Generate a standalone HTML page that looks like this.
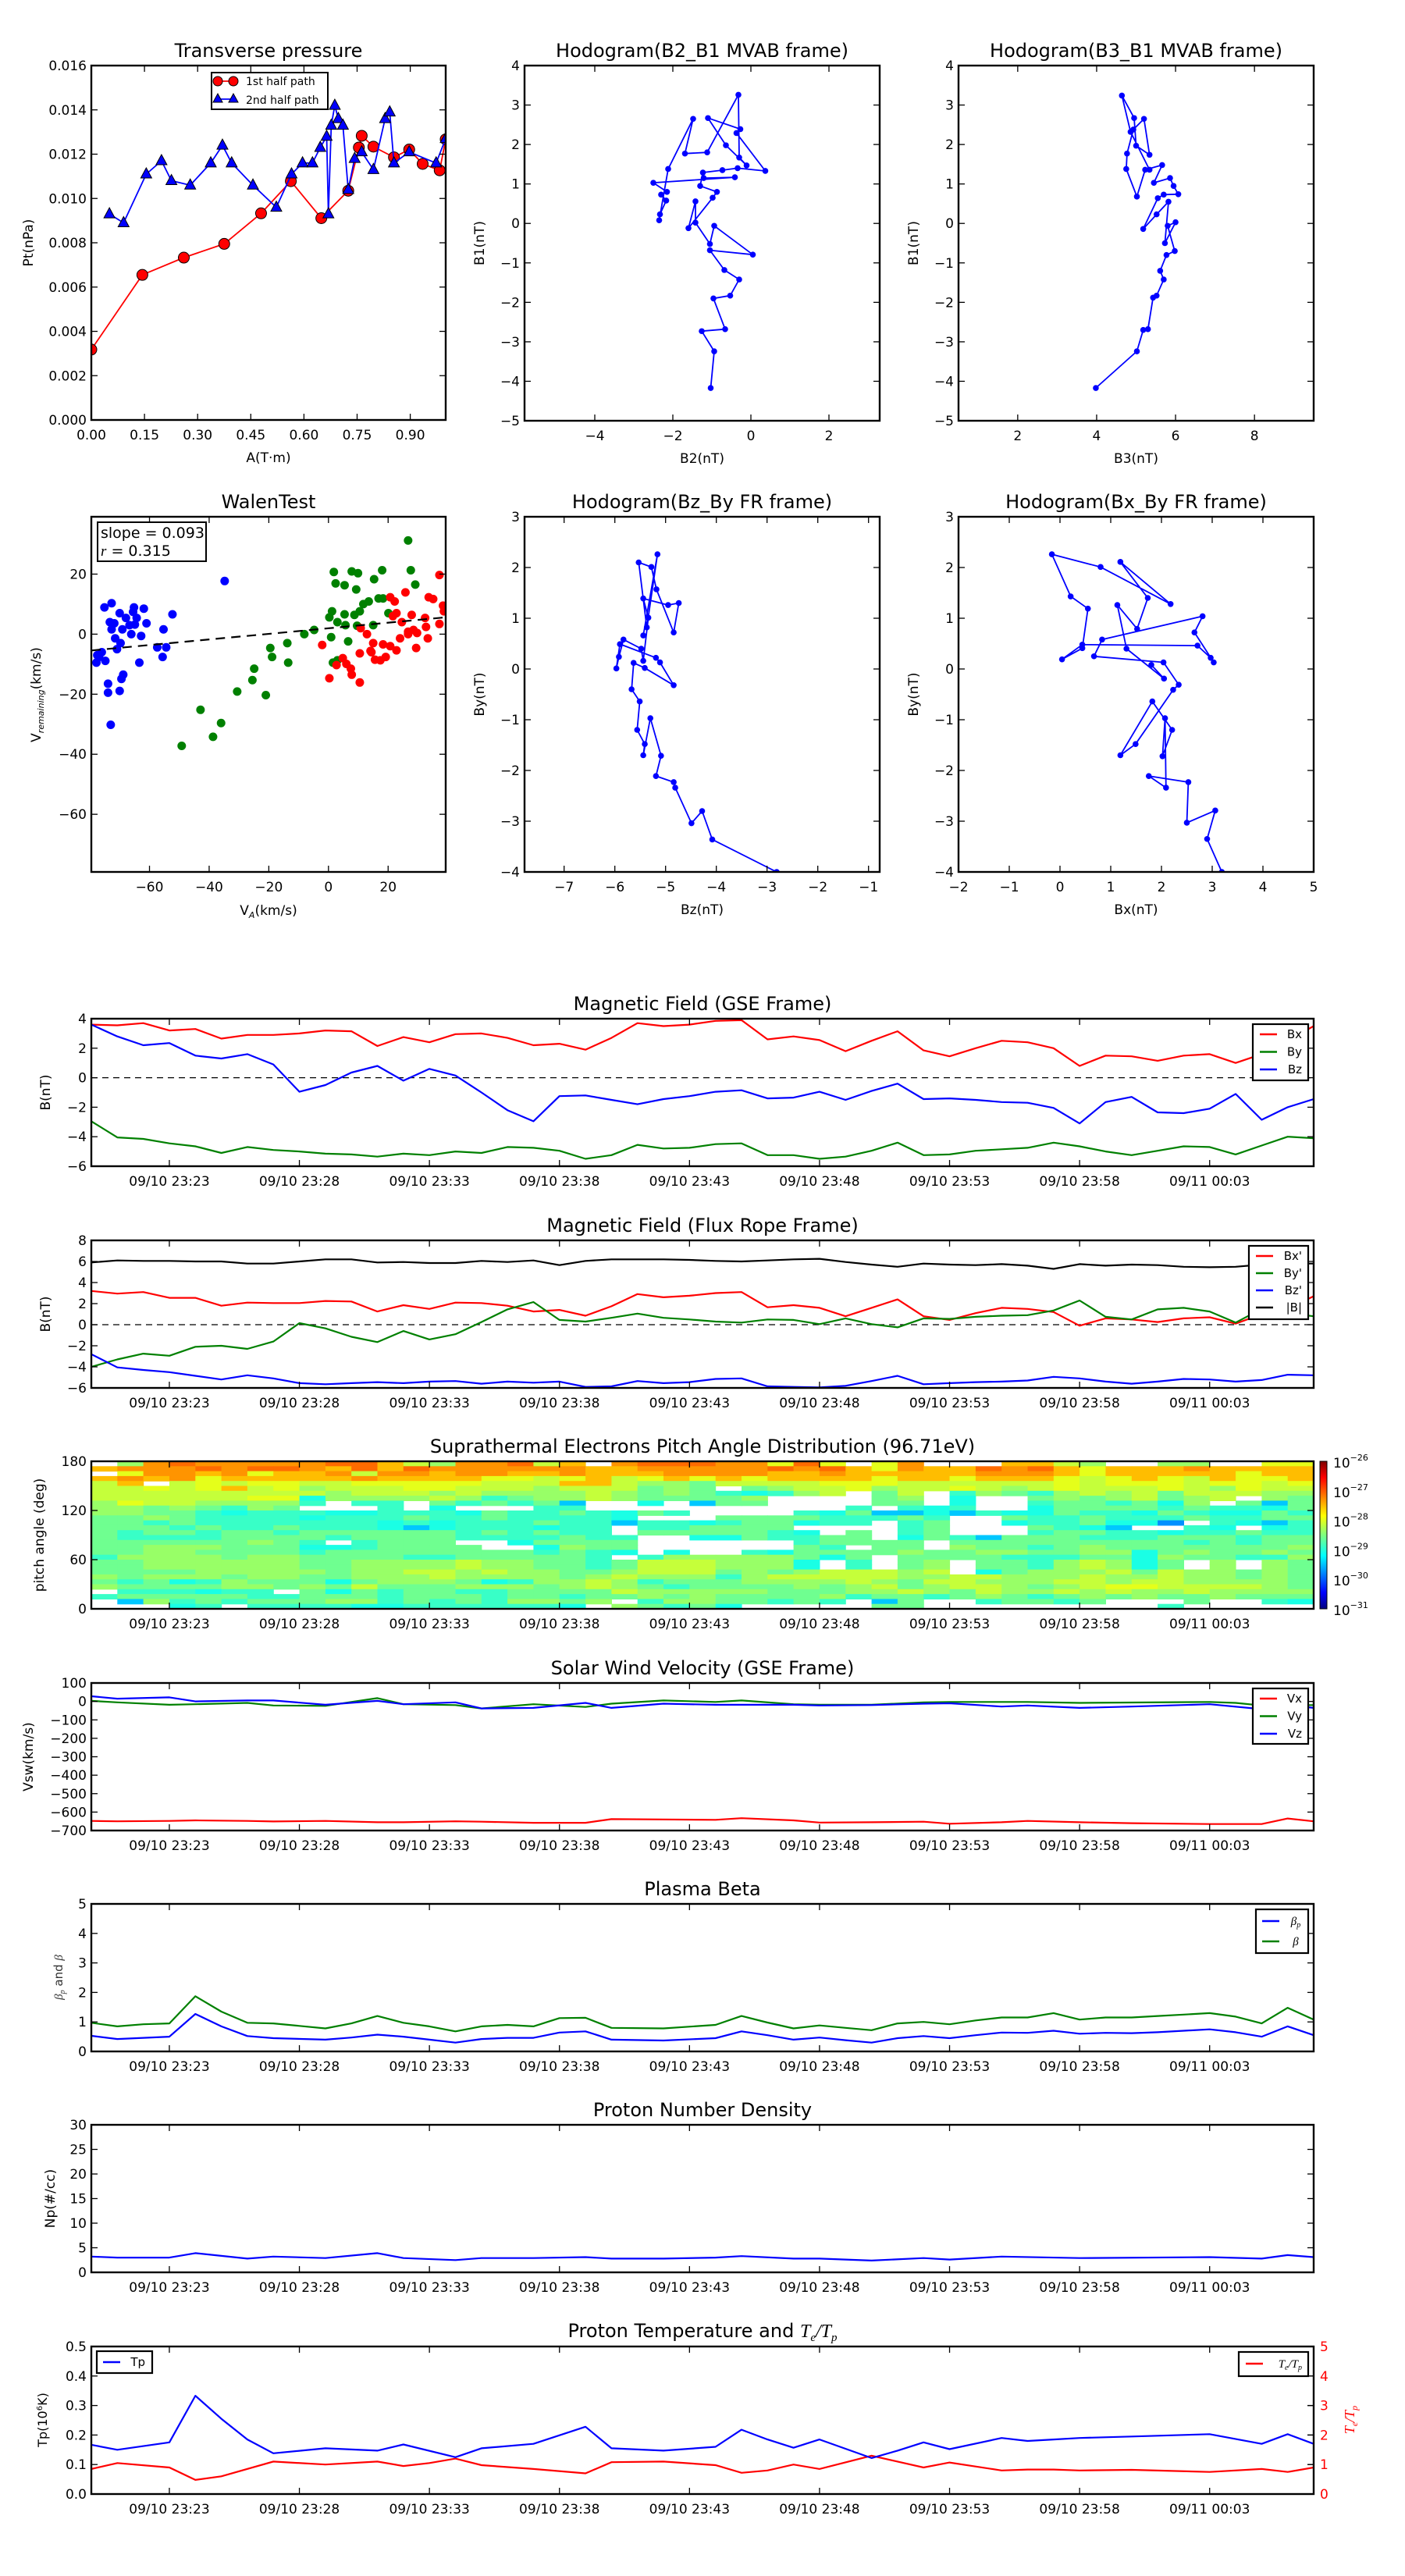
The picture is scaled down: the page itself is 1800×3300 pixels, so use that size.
<!DOCTYPE html>
<html><head><meta charset="utf-8">
<style>
html,body{margin:0;padding:0;background:#fff;}
svg{display:block;font-family:"DejaVu Sans","Liberation Sans",sans-serif;}
</style></head>
<body>
<svg id="fig" xmlns="http://www.w3.org/2000/svg" width="1800" height="3300" viewBox="0 0 1800 3300">
<rect x="0" y="0" width="1800" height="3300" fill="#fff"/>
<defs>
<linearGradient id="jet" x1="0" y1="1" x2="0" y2="0">
<stop offset="0" stop-color="#00007f"/><stop offset="0.11" stop-color="#0000ff"/><stop offset="0.36" stop-color="#00ffff"/><stop offset="0.5" stop-color="#7fff7f"/><stop offset="0.63" stop-color="#ffff00"/><stop offset="0.89" stop-color="#ff0000"/><stop offset="1" stop-color="#7f0000"/>
</linearGradient>
</defs>
</svg>
<script>
// ---------- DATA ----------
const tpA=[0,0.144,0.261,0.375,0.479,0.563,0.649,0.725,0.755,0.763,0.796,0.854,0.897,0.935,0.983,1.0];
const tpP1=[0.00318,0.00655,0.00733,0.00795,0.00933,0.01078,0.00911,0.01035,0.0123,0.01283,0.01234,0.01186,0.01221,0.01156,0.01127,0.01267];
const tpA2=[0.051,0.091,0.155,0.198,0.226,0.279,0.337,0.37,0.396,0.456,0.522,0.565,0.596,0.624,0.646,0.664,0.669,0.677,0.687,0.697,0.71,0.725,0.743,0.763,0.796,0.829,0.842,0.854,0.897,0.973,1.0];
const tpP2=[0.0093,0.0089,0.0111,0.0117,0.0108,0.0106,0.0116,0.0124,0.0116,0.0106,0.0096,0.0111,0.0116,0.0116,0.0123,0.0128,0.0093,0.0133,0.0142,0.0136,0.0133,0.0104,0.0118,0.0121,0.0113,0.0136,0.0139,0.0116,0.0121,0.0116,0.0127];

const h1B2=[-1.03,-0.94,-1.26,-0.66,-0.96,-0.53,-0.3,-0.68,-1.05,0.05,-0.94,-1.05,-1.42,-1.42,-1.6,-0.98,-0.87,-1.3,-1.23,-0.73,-0.34,0.37,-0.37,-0.27,-1.1,-0.64,-0.11,-0.3,-0.32,-1.12,-1.69,-1.48,-2.12,-2.35,-2.33,-2.17,-2.3,-2.15,-2.5,-0.41,-1.21];
const h1B1=[-4.17,-3.24,-2.73,-2.68,-1.9,-1.83,-1.42,-1.18,-0.68,-0.79,-0.06,-0.52,0.02,0.56,-0.12,0.65,0.8,0.95,1.29,1.35,1.4,1.33,2.29,2.39,2.67,1.98,1.47,1.67,3.26,1.8,1.77,2.65,1.38,0.08,0.23,0.58,0.73,0.8,1.03,1.17,1.15];
const h2B3=[3.98,5.02,5.18,5.3,5.43,5.52,5.7,5.61,5.77,5.98,5.8,6.0,5.73,5.82,5.52,5.18,5.55,5.7,6.07,5.95,5.86,5.45,5.66,5.23,5.02,4.75,4.77,4.93,5.2,5.34,5.0,4.95,4.64,4.86,5.34];
const h2B1=[-4.17,-3.24,-2.7,-2.68,-1.88,-1.83,-1.42,-1.2,-0.8,-0.7,-0.06,0.03,-0.5,0.55,0.23,-0.14,0.64,0.73,0.74,0.95,1.15,1.03,1.48,1.36,0.68,1.38,1.77,2.38,2.65,1.74,1.97,2.67,3.24,2.32,1.36];
const h3Bz=[-2.81,-4.08,-4.28,-4.49,-4.81,-4.84,-5.19,-5.09,-5.3,-5.44,-5.41,-5.56,-5.51,-5.67,-5.63,-5.41,-4.84,-5.11,-5.19,-5.9,-5.97,-5.92,-5.83,-5.48,-5.44,-5.34,-5.44,-4.95,-4.74,-4.84,-5.18,-5.28,-5.53,-5.37,-5.16,-5.44];
const h3By=[-4.0,-3.36,-2.8,-3.04,-2.34,-2.23,-2.11,-1.71,-0.97,-1.7,-1.48,-1.2,-0.64,-0.4,0.12,0.02,-0.32,0.13,0.22,0.49,0.01,0.24,0.58,0.4,0.16,1.01,1.39,1.26,1.3,0.72,1.57,2.01,2.1,0.82,2.26,0.66];
const h4Bx=[3.19,2.9,3.06,2.5,2.53,1.75,2.09,2.07,2.02,2.21,1.82,1.19,1.49,2.23,2.34,2.04,0.67,0.83,2.81,2.65,3.03,2.97,2.71,0.44,0.04,0.44,0.55,0.21,-0.16,0.8,2.18,1.19,1.73,1.52,1.13,1.31,2.05,1.8];
const h4By=[-4.0,-3.35,-2.79,-3.03,-2.23,-2.11,-2.34,-0.97,-1.72,-1.2,-0.64,-1.7,-1.48,-0.41,-0.31,0.13,0.25,0.58,1.04,0.72,0.13,0.22,0.46,0.48,0.19,0.41,1.19,1.43,2.26,2.01,1.28,2.11,1.4,0.79,1.26,0.4,-0.19,0.08];

const wBlueX=[-77.5,-77.8,-76.9,-74.8,-75.1,-72.7,-73.3,-72.7,-71.8,-70.9,-70.0,-69.4,-68.8,-69.1,-70.0,-73.9,-73.9,-73.0,-66.1,-65.2,-65.5,-64.9,-64.3,-61.9,-62.8,-61.0,-63.4,-57.4,-55.3,-54.4,-55.6,-52.3,-34.8,-69.7,-67.9,-66.7,-76.0,-71.5];
const wBlueY=[-7.0,-9.5,-7.6,-8.9,8.9,10.3,4.0,1.6,3.6,-5.0,7.0,-14.9,-13.5,1.6,-18.9,-16.5,-19.5,-30.2,0,8.9,7.4,3.2,5.4,8.5,-0.6,3.6,-9.5,-4.4,1.6,-4.4,-7.6,6.6,17.7,-3.0,5.4,3.0,-6.0,-1.4];
const wGreenX=[-49.2,-42.9,-38.7,-36.0,-30.6,-25.5,-24.9,-21.0,-18.9,-19.5,-13.8,-13.5,-8.1,-4.8,1.8,2.4,5.4,7.8,9.9,9.3,15.3,18.0,26.7,27.6,29.1,16.8,18.3,13.5,5.4,8.7,10.5,0.3,1.2,3.0,5.7,0.9,6.6,15.0,1.5,3.0,9.6,20.1,11.7];
const wGreenY=[-37.2,-25.2,-34.2,-29.6,-19.1,-15.3,-11.5,-20.3,-7.6,-4.6,-3.0,-9.5,0,1.4,20.7,16.9,16.3,20.9,20.3,14.9,18.3,21.3,31.2,21.3,16.5,11.9,11.9,10.9,6.6,6.4,7.6,5.6,7.6,4.0,3.0,-1.0,-2.4,3.0,-9.5,-8.7,2.8,7.0,10.0];
const wRedX=[-2.1,0.3,2.7,4.8,6.0,7.8,10.5,7.5,10.5,14.1,15.6,17.4,19.2,20.7,22.2,24.6,25.8,26.7,27.9,28.5,29.4,22.8,24.0,26.7,29.7,32.7,33.6,35.1,37.2,38.4,37.2,33.3,32.4,22.8,21.6,18.3,15.0,10.8,12.9,14.4,20.7,38.7];
const wRedY=[-3.6,-14.7,-10.3,-8.0,-9.9,-13.5,-16.1,-11.5,-6.4,-5.6,-8.5,-8.7,-7.6,12.3,10.9,4.0,13.9,0,6.4,1.4,-4.6,-5.4,-1.4,0.8,0.4,2.4,12.3,11.7,19.7,9.5,3.4,-1.4,5.4,7.0,6.0,-3.4,-3.0,2.0,0,-6.0,-4.0,7.6];
const walenSlope=0.093, walenIntercept=1.95;

const timeTickIdx=[3,8,13,18,23,28,33,38,43];
const timeTickLabels=["09/10 23:23","09/10 23:28","09/10 23:33","09/10 23:38","09/10 23:43","09/10 23:48","09/10 23:53","09/10 23:58","09/11 00:03"];

const gseBx=[3.6,3.55,3.7,3.2,3.3,2.65,2.9,2.9,3.0,3.2,3.15,2.15,2.75,2.4,2.95,3.0,2.7,2.2,2.3,1.9,2.7,3.7,3.5,3.6,3.85,3.9,2.6,2.8,2.55,1.8,2.5,3.15,1.85,1.45,2.0,2.5,2.4,2.0,0.8,1.5,1.45,1.15,1.5,1.6,1.0,1.6,2.5,3.5];
const gseBy=[-2.95,-4.05,-4.15,-4.45,-4.65,-5.1,-4.7,-4.9,-5.0,-5.15,-5.2,-5.35,-5.15,-5.25,-5.0,-5.1,-4.7,-4.75,-4.95,-5.5,-5.25,-4.55,-4.8,-4.75,-4.5,-4.45,-5.25,-5.25,-5.5,-5.35,-4.95,-4.4,-5.25,-5.2,-4.95,-4.85,-4.75,-4.4,-4.65,-5.0,-5.25,-4.95,-4.65,-4.7,-5.2,-4.6,-4.0,-4.1];
const gseBz=[3.6,2.8,2.2,2.35,1.5,1.3,1.6,0.9,-0.95,-0.5,0.35,0.8,-0.2,0.6,0.15,-1.0,-2.2,-2.95,-1.25,-1.2,-1.5,-1.8,-1.45,-1.25,-0.95,-0.85,-1.4,-1.35,-0.95,-1.5,-0.9,-0.4,-1.45,-1.4,-1.5,-1.65,-1.7,-2.05,-3.1,-1.65,-1.3,-2.35,-2.4,-2.1,-1.1,-2.85,-2.0,-1.45];

const frBx=[3.2,2.95,3.1,2.55,2.55,1.8,2.1,2.05,2.05,2.25,2.2,1.25,1.85,1.5,2.1,2.05,1.8,1.25,1.4,0.85,1.75,2.9,2.6,2.75,3.0,3.1,1.65,1.85,1.6,0.8,1.6,2.4,0.8,0.45,1.1,1.6,1.5,1.2,-0.1,0.6,0.5,0.25,0.6,0.7,0.1,1.0,1.5,2.7];
const frBy=[-4.0,-3.3,-2.75,-2.95,-2.1,-2.0,-2.3,-1.6,0.15,-0.35,-1.15,-1.65,-0.6,-1.4,-0.9,0.25,1.45,2.15,0.45,0.3,0.65,1.05,0.65,0.5,0.3,0.2,0.5,0.45,0.05,0.6,0.05,-0.25,0.6,0.55,0.75,0.85,0.9,1.35,2.3,0.75,0.5,1.45,1.6,1.25,0.2,1.5,1.1,0.8];
const frBz=[-2.8,-4.05,-4.3,-4.5,-4.85,-5.2,-4.8,-5.1,-5.55,-5.65,-5.55,-5.45,-5.55,-5.4,-5.35,-5.6,-5.4,-5.5,-5.4,-5.9,-5.85,-5.35,-5.55,-5.45,-5.15,-5.1,-5.85,-5.9,-5.95,-5.8,-5.35,-4.85,-5.65,-5.55,-5.45,-5.4,-5.3,-4.95,-5.1,-5.4,-5.6,-5.4,-5.15,-5.2,-5.4,-5.25,-4.75,-4.8];
const frBt=[5.9,6.1,6.05,6.05,6.0,6.0,5.8,5.8,6.0,6.2,6.2,5.9,5.95,5.85,5.85,6.05,5.95,6.1,5.65,6.05,6.2,6.2,6.2,6.15,6.05,6.0,6.1,6.2,6.25,5.95,5.7,5.5,5.8,5.7,5.65,5.75,5.6,5.3,5.75,5.6,5.7,5.65,5.5,5.45,5.5,5.7,5.8,5.8];

// pitch-angle distribution: level codes per 6-degree bin (row 0 = 174-180 deg), one char per minute
const padLevelCodes="abcdefghijk";
const padLevelLog=[-27.15,-27.35,-27.55,-28.0,-28.16,-28.38,-28.58,-28.85,-29.0,-29.4,-29.67];
const padRows=[
" fbabbbbbaacefbbaec baaabbdad db   ccef  ff  dd",
"cbbbabaabcacabbbbbbccbbbbbabacdbccabacdcccbcccc",
" dbbcbdccbebbcbbccbcccbbbbccbcccccbbbcdcccccdcc",
"cbcbdcccccbccccddedcedcdcdccccdccdcccdedcdecddc",
"ec ededdeedddddeeecceffgeeeedddeeeeeededddedded",
"eededcedfeeeddeeefeeegfg gfeedfeedefedeeedefdee",
"eeeeeeeeefeeefeffffefgfghihfe ge hfghfefegeeeff",
"eeeeeeddiffffefhgffefggggf    gf i  gfgfegfe fg",
"fdeeffffh hh ghghgj  i jgg    gg i  hgghgif gjg",
"ffgfghfg   h i   hh          h hih  igggghghhig",
"ffgghihhhiihhhighhghigh    higjjijhiighhighiigh",
"ggfghhhhihhhghhghhhhi   gggghhhgh  ghhghhhghhgg",
"gghghhhhhhhihihhhghhjhhihggihh hg  ihhgiik hijh",
"ggghghhghhhijihhhihh hhgggg    hg   ghij  hi ih",
"ghgghgghgggggghghghh ggggghi g hg   hgghhihhghh",
"ghhhhgggghgggghhhhghh  iighhgg ighjggghhhggghgg",
"ggggggfgh hggg  igggg      hgggg ggggggggghghggg",
"ggfffgggiihgggg  ifgg      gh gg fgghgfgggggggfg",
"ggffgggghgggggggghghi i  higgggfggffggffigfggfg",
"hffffgffgggghhgggggh hfffffgig gggghhhggifgghhf",
"ggffffffggffffeffgghgeeefffi h gf gghfefig f fg",
"ggffffffggffffeffgghgeeefffi h gf gghfefig f fg",
"ggggfffffgffeefeffggfeeegfgfeeefe igfffegeffgfg",
"fgfffgffggfffeffffgfefffhfeeeeeffeefffeffeffgfg",
"ghgihfgggigfffgihffefhgggffffefgeefffeefeeffffg",
"fggggffgfgegggfffgfefghggggfgfegfeefgfeddeeeefg",
" hhhihh gighgghhggggefffffgggffefgeffefeffefffffg",
"hggggghhggghggghgghggfgfggggfhgghgfghgfgfggfggg",
" jfhghgggffhghghffgf hffgghgh jg  hgghg   g  hi",
"   ih hhhhiihhhhhhi fghgi     gg         h     "
];
const cbarLabels=["-26","-27","-28","-29","-30","-31"];

const swIdx=[0,1,3,4,6,7,9,11,12,14,15,17,19,20,22,24,25,27,28,30,32,33,35,36,38,40,43,45,46,47];
const swVx=[-648,-650,-648,-645,-648,-651,-648,-655,-655,-650,-652,-658,-658,-638,-640,-642,-633,-645,-657,-655,-652,-663,-655,-648,-655,-660,-665,-665,-635,-650];
const swVyIdx=[0,1,3,4,6,7,9,11,12,14,15,17,19,20,22,24,25,27,28,30,32,33,36,38,43,44,45,47];
const swVy=[3,-5,-18,-15,-8,-22,-24,18,-15,-20,-38,-15,-30,-12,5,-3,5,-15,-18,-18,-5,-3,-3,-8,-3,-8,-22,-20];
const swVz=[28,15,22,0,5,5,-18,3,-15,-5,-38,-35,-8,-35,-12,-18,-18,-18,-22,-20,-12,-10,-28,-22,-35,-28,-15,-42,-20,-35];

const betaIdx=[0,1,2,3,4,5,6,7,9,10,11,12,13,14,15,16,17,18,19,20,22,24,25,26,27,28,29,30,31,32,33,34,35,36,37,38,39,40,41,42,43,44,45,46,47];
const betaP=[0.53,0.42,0.46,0.5,1.27,0.85,0.52,0.45,0.4,0.47,0.57,0.5,0.4,0.3,0.42,0.46,0.46,0.64,0.68,0.4,0.37,0.45,0.68,0.55,0.4,0.47,0.38,0.3,0.45,0.52,0.45,0.55,0.64,0.63,0.7,0.6,0.63,0.62,0.65,0.7,0.75,0.65,0.5,0.85,0.55];
const betaT=[0.97,0.85,0.92,0.95,1.87,1.35,0.97,0.95,0.78,0.95,1.2,0.97,0.85,0.68,0.85,0.9,0.85,1.13,1.14,0.8,0.78,0.9,1.2,0.98,0.78,0.88,0.8,0.72,0.95,1.0,0.92,1.05,1.15,1.15,1.3,1.08,1.15,1.15,1.2,1.25,1.3,1.18,0.95,1.48,1.08];

const npIdx=[0,1,3,4,6,7,9,11,12,14,15,17,19,20,22,24,25,27,28,30,32,33,35,38,43,45,46,47];
const npVal=[3.2,3.0,3.0,3.9,2.8,3.2,2.9,3.9,2.9,2.5,2.9,2.9,3.1,2.8,2.8,3.0,3.3,2.8,2.8,2.4,2.9,2.6,3.2,2.9,3.1,2.8,3.5,3.1];

const tIdx=[0,1,3,4,5,6,7,9,11,12,14,15,17,19,20,22,24,25,26,27,28,30,31,32,33,35,36,37,38,40,43,45,46,47];
const tpVal=[0.167,0.15,0.175,0.333,0.255,0.185,0.138,0.155,0.147,0.168,0.125,0.155,0.17,0.228,0.155,0.147,0.16,0.218,0.185,0.157,0.185,0.122,0.147,0.175,0.152,0.19,0.18,0.185,0.19,0.195,0.203,0.17,0.203,0.17];
const teIdx=[0,1,3,4,5,7,9,11,12,13,14,15,17,19,20,22,24,25,26,27,28,30,31,32,33,35,36,37,38,40,43,45,46,47];
const teRatio=[0.85,1.05,0.9,0.48,0.6,1.1,1.0,1.1,0.95,1.05,1.2,0.98,0.85,0.7,1.08,1.1,0.98,0.72,0.8,1.0,0.85,1.3,1.1,0.9,1.07,0.8,0.83,0.83,0.8,0.82,0.75,0.85,0.75,0.9];

// ---------- DRAWING ----------
const NS='http://www.w3.org/2000/svg';
const svg=document.getElementById('fig');
function mk(tag,attrs,name,parent){
  const e=document.createElementNS(NS,tag);
  for(const k in attrs) e.setAttribute(k,attrs[k]);
  
  
  (parent||svg).appendChild(e);
  return e;
}
function txt(x,y,s,size,anchor,name,parent,extra){
  const a={x:x,y:y,'font-size':size,'text-anchor':anchor||'middle',fill:'#000'};
  if(extra) for(const k in extra) a[k]=extra[k];
  const t=mk('text',a,name,parent);
  t.textContent=s;
  return t;
}
function fmtMinus(s){return String(s).replace('-','\u2212');}
let clipN=0;
function axes(o){
  const sx=v=>o.x0+(v-o.xmin)/(o.xmax-o.xmin)*(o.x1-o.x0);
  const sy=v=>o.y1-(v-o.ymin)/(o.ymax-o.ymin)*(o.y1-o.y0);
  const g=mk('g',{},o.name);
  const cid='clip'+(clipN++);
  const cp=mk('clipPath',{id:cid},o.name+'-clip',g);
  mk('rect',{x:o.x0,y:o.y0,width:o.x1-o.x0,height:o.y1-o.y0},'clip-rect',cp);
  const plot=mk('g',{'clip-path':'url(#'+cid+')'},o.name+'-plot-area',g);
  if(o.title) txt((o.x0+o.x1)/2,o.y0-11,o.title,24,'middle',o.name+'-title',g);
  const fs=o.fs||17;
  (o.xticks||[]).forEach((v,i)=>{
    const X=sx(v);
    mk('line',{x1:X,y1:o.y1,x2:X,y2:o.y1-8,stroke:'#000','stroke-width':1.3},'x-tick',g);
    mk('line',{x1:X,y1:o.y0,x2:X,y2:o.y0+8,stroke:'#000','stroke-width':1.3},'x-tick-top',g);
    const lab=o.xlabels?o.xlabels[i]:fmtMinus(o.xfmt?o.xfmt(v):v);
    txt(X,o.y1+25,lab,fs,'middle','x-tick-label',g);
  });
  (o.yticks||[]).forEach((v,i)=>{
    const Y=sy(v);
    mk('line',{x1:o.x0,y1:Y,x2:o.x0+8,y2:Y,stroke:'#000','stroke-width':1.3},'y-tick',g);
    mk('line',{x1:o.x1,y1:Y,x2:o.x1-8,y2:Y,stroke:'#000','stroke-width':1.3},'y-tick-right',g);
    const lab=o.ylabels?o.ylabels[i]:fmtMinus(o.yfmt?o.yfmt(v):v);
    txt(o.x0-6,Y+6,lab,fs,'end','y-tick-label',g);
  });
  if(o.xlabel) txt((o.x0+o.x1)/2,o.xlabelY||(o.y1+56),o.xlabel,17,'middle',o.name+'-x-axis-title',g);
  if(o.ylabel){
    const yl=txt(0,0,o.ylabel,17,'middle',o.name+'-y-axis-title',g);
    yl.setAttribute('transform','translate('+o.ylabelX+','+(o.y0+o.y1)/2+') rotate(-90)');
  }
  return {sx,sy,g,plot,finish:()=>mk('rect',{x:o.x0,y:o.y0,width:o.x1-o.x0,height:o.y1-o.y0,fill:'none',stroke:'#000','stroke-width':2.4},o.name+'-frame',g)};
}
function poly(ax,xs,ys,color,name,w,dash){
  const pts=xs.map((x,i)=>ax.sx(x).toFixed(1)+','+ax.sy(ys[i]).toFixed(1)).join(' ');
  const a={points:pts,fill:'none',stroke:color,'stroke-width':w||2.2,'stroke-linejoin':'round'};
  if(dash) a['stroke-dasharray']=dash;
  return mk('polyline',a,name,ax.plot);
}
function dots(ax,xs,ys,color,r,name){
  xs.forEach((x,i)=>{mk('circle',{cx:ax.sx(x),cy:ax.sy(ys[i]),r:r,fill:color},name,ax.plot);});
}
function legend(g,x,y,w,h,items,name){
  const lg=mk('g',{},name,g);
  mk('rect',{x:x,y:y,width:w,height:h,fill:'#fff',stroke:'#000','stroke-width':2.2},'legend-box',lg);
  items.forEach((it,i)=>{
    const Y=y+13+i*it.dy;
    mk('line',{x1:x+9,y1:Y,x2:x+31,y2:Y,stroke:it.c,'stroke-width':2.4},'legend-line-'+it.n,lg);
    const t=txt(x+w-8,Y+5,it.t,15,'end','legend-label-'+it.n,lg,it.style||{});
  });
}
const idx=n=>Array.from({length:n},(_,i)=>i);

// ---- Transverse pressure ----
{
 const ax=axes({name:'transverse-pressure',x0:117,x1:571,y0:84,y1:538,xmin:0,xmax:1.0,ymin:0,ymax:0.016,
  xticks:[0,0.15,0.3,0.45,0.6,0.75,0.9],xfmt:v=>v.toFixed(2),yticks:[0,0.002,0.004,0.006,0.008,0.01,0.012,0.014,0.016],yfmt:v=>v.toFixed(3),
  title:'Transverse pressure',xlabel:'A(T·m)',xlabelY:592,ylabel:'Pt(nPa)',ylabelX:42});
 poly(ax,tpA,tpP1,'#f00','first-half-path-line',1.8);
 tpA.forEach((x,i)=>{mk('circle',{cx:ax.sx(x),cy:ax.sy(tpP1[i]),r:7,fill:'#f00',stroke:'#000','stroke-width':1},'first-half-marker',ax.plot);});
 poly(ax,tpA2,tpP2,'#00f','second-half-path-line',1.8);
 tpA2.forEach((x,i)=>{const X=ax.sx(x),Y=ax.sy(tpP2[i]);mk('polygon',{points:(X)+','+(Y-8)+' '+(X-7)+','+(Y+5)+' '+(X+7)+','+(Y+5),fill:'#00f',stroke:'#000','stroke-width':1},'second-half-marker',ax.plot);});
 ax.finish();
 const lg=mk('g',{},'transverse-legend',ax.g);
 mk('rect',{x:271,y:93,width:149,height:47,fill:'#fff',stroke:'#000','stroke-width':2},'legend-box',lg);
 mk('line',{x1:278,y1:104,x2:300,y2:104,stroke:'#f00','stroke-width':1.8},'legend-line-1st',lg);
 mk('circle',{cx:279,cy:104,r:6,fill:'#f00',stroke:'#000'},'legend-marker-1st',lg);
 mk('circle',{cx:299,cy:104,r:6,fill:'#f00',stroke:'#000'},'legend-marker-1st',lg);
 txt(315,109,'1st half path',14,'start','legend-label-1st',lg);
 mk('line',{x1:278,y1:127,x2:300,y2:127,stroke:'#00f','stroke-width':1.8},'legend-line-2nd',lg);
 mk('polygon',{points:'279,120 273,131 285,131',fill:'#00f',stroke:'#000'},'legend-marker-2nd',lg);
 mk('polygon',{points:'299,120 293,131 305,131',fill:'#00f',stroke:'#000'},'legend-marker-2nd',lg);
 txt(315,133,'2nd half path',14,'start','legend-label-2nd',lg);
}
// ---- Hodograms ----
function hodo(name,title,x0,y0,xmin,xmax,ymin,ymax,xt,yt,xl,yl,xs,ys){
 const ax=axes({name:name,x0:x0,x1:x0+455,y0:y0,y1:y0+455,xmin,xmax,ymin,ymax,xticks:xt,yticks:yt,title:title,xlabel:xl,xlabelY:y0+455+54,ylabel:yl,ylabelX:x0-52});
 poly(ax,xs,ys,'#00f',name+'-path',1.8);
 dots(ax,xs,ys,'#00f',3.8,name+'-point');
 ax.finish();
}
hodo('hodogram-b2-b1','Hodogram(B2_B1 MVAB frame)',672,84,-5.8,3.3,-5,4,[-4,-2,0,2],[-5,-4,-3,-2,-1,0,1,2,3,4],'B2(nT)','B1(nT)',h1B2,h1B1);
hodo('hodogram-b3-b1','Hodogram(B3_B1 MVAB frame)',1228,84,0.5,9.5,-5,4,[2,4,6,8],[-5,-4,-3,-2,-1,0,1,2,3,4],'B3(nT)','B1(nT)',h2B3,h2B1);
hodo('hodogram-bz-by','Hodogram(Bz_By FR frame)',672,662,-7.78,-0.78,-4,3,[-7,-6,-5,-4,-3,-2,-1],[-4,-3,-2,-1,0,1,2,3],'Bz(nT)','By(nT)',h3Bz,h3By);
hodo('hodogram-bx-by','Hodogram(Bx_By FR frame)',1228,662,-2,5,-4,3,[-2,-1,0,1,2,3,4,5],[-4,-3,-2,-1,0,1,2,3],'Bx(nT)','By(nT)',h4Bx,h4By);
// ---- Walen test ----
{
 const ax=axes({name:'walen-test',x0:117,x1:571,y0:662,y1:1117,xmin:-79.5,xmax:39.3,ymin:-79.2,ymax:39.1,xticks:[-60,-40,-20,0,20],yticks:[-60,-40,-20,0,20],title:'WalenTest',xlabel:'',ylabel:'',ylabelX:50});
 dots(ax,wBlueX,wBlueY,'#00f',5.5,'walen-point-blue');
 dots(ax,wGreenX,wGreenY,'#008000',5.5,'walen-point-green');
 dots(ax,wRedX,wRedY,'#f00',5.5,'walen-point-red');
 const fx=[-79.5,39.3];
 poly(ax,fx,fx.map(v=>walenSlope*v+walenIntercept),'#000','walen-fit-line',2.2,'12,8');
 ax.finish();
 const xl=mk('text',{x:344,y:1172,'font-size':17,'text-anchor':'middle'},'walen-x-axis-title',ax.g);
 xl.innerHTML='V<tspan font-size="11" dy="4" font-style="italic">A</tspan><tspan dy="-4">(km/s)</tspan>';
 const yl=mk('text',{'font-size':17,'text-anchor':'middle',transform:'translate(52,890) rotate(-90)'},'walen-y-axis-title',ax.g);
 yl.innerHTML='V<tspan font-size="11" dy="4" font-style="italic">remaining</tspan><tspan dy="-4">(km/s)</tspan>';
 const lg=mk('g',{},'walen-stats-box',ax.g);
 mk('rect',{x:125,y:669,width:139,height:50,fill:'#fff',stroke:'#000','stroke-width':2},'stats-box',lg);
 txt(129,689,'slope = 0.093',19,'start','slope-text',lg);
 const r=mk('text',{x:129,y:712,'font-size':19},'r-text',lg);
 r.innerHTML='<tspan font-style="italic" font-family="Liberation Serif">r</tspan> = 0.315';
}
// ---- time series helper ----
function tpanel(name,title,top,ymin,ymax,yt,ylab,ylx,ylabels){
 return axes({name:name,x0:117,x1:1683,y0:top,y1:top+189,xmin:0,xmax:47,ymin,ymax,xticks:timeTickIdx,xlabels:timeTickLabels,yticks:yt,ylabels:ylabels,title:title,ylabel:ylab,ylabelX:ylx});
}
{
 const ax=tpanel('magnetic-field-gse','Magnetic Field (GSE Frame)',1305,-6,4,[-6,-4,-2,0,2,4],'B(nT)',64);
 poly(ax,[0,47],[0,0],'#000','zero-line',1.3,'8,6');
 poly(ax,idx(gseBx.length),gseBx,'#f00','bx-line');
 poly(ax,idx(gseBy.length),gseBy,'#008000','by-line');
 poly(ax,idx(gseBz.length),gseBz,'#00f','bz-line');
 ax.finish();
 legend(ax.g,1605,1312,71,72,[{n:'bx',t:'Bx',c:'#f00',dy:22.5},{n:'by',t:'By',c:'#008000',dy:22.5},{n:'bz',t:'Bz',c:'#00f',dy:22.5}],'gse-legend');
}
{
 const ax=tpanel('magnetic-field-flux-rope','Magnetic Field (Flux Rope Frame)',1589,-6,8,[-6,-4,-2,0,2,4,6,8],'B(nT)',64);
 poly(ax,[0,47],[0,0],'#000','zero-line',1.3,'8,6');
 poly(ax,idx(frBt.length),frBt,'#000','b-total-line');
 poly(ax,idx(frBx.length),frBx,'#f00','bx-prime-line');
 poly(ax,idx(frBy.length),frBy,'#008000','by-prime-line');
 poly(ax,idx(frBz.length),frBz,'#00f','bz-prime-line');
 ax.finish();
 legend(ax.g,1600,1596,76,94,[{n:'bx',t:"Bx'",c:'#f00',dy:22},{n:'by',t:"By'",c:'#008000',dy:22},{n:'bz',t:"Bz'",c:'#00f',dy:22},{n:'b',t:'|B|',c:'#000',dy:22}],'fr-legend');
}
function jet(t){
 const c=v=>Math.round(255*Math.max(0,Math.min(1,v)));
 return 'rgb('+c(1.5-Math.abs(4*t-3))+','+c(1.5-Math.abs(4*t-2))+','+c(1.5-Math.abs(4*t-1))+')';
}
{
 const ax=tpanel('pitch-angle-distribution','Suprathermal Electrons Pitch Angle Distribution (96.71eV)',1872,0,180,[0,60,120,180],'pitch angle (deg)',56);
 const nr=padRows.length, bin=180/nr;
 padRows.forEach((row,r)=>{
  for(let c=0;c<47;c++){
   const ch=row.charAt(c);
   const li=padLevelCodes.indexOf(ch);
   if(li<0) continue;
   const v=padLevelLog[li];
   const y0=ax.sy(180-r*bin), y1=ax.sy(180-(r+1)*bin);
   const x0=ax.sx(c), x1=ax.sx(c+1);
   mk('rect',{x:x0.toFixed(1),y:y0.toFixed(1),width:(x1-x0+0.6).toFixed(1),height:(y1-y0+0.6).toFixed(1),fill:jet((v+31)/5)},'pad-cell',ax.plot);
  }
 });
 ax.finish();
 const cb=mk('g',{},'colorbar',svg);
 mk('rect',{x:1691,y:1872,width:9,height:189,fill:'url(#jet)',stroke:'#000','stroke-width':1},'colorbar-gradient',cb);
 cbarLabels.forEach((l,i)=>{
  const Y=1872+i*189/5;
  const t=mk('text',{x:1708,y:Y+8,'font-size':17},'colorbar-tick-label',cb);
  t.innerHTML='10<tspan font-size="11" dy="-9">'+fmtMinus(l)+'</tspan>';
 });
}
{
 const ax=tpanel('solar-wind-velocity','Solar Wind Velocity (GSE Frame)',2156,-700,100,[-700,-600,-500,-400,-300,-200,-100,0,100],'Vsw(km/s)',42);
 poly(ax,swIdx,swVx,'#f00','vx-line');
 poly(ax,swVyIdx,swVy,'#008000','vy-line');
 poly(ax,swIdx,swVz,'#00f','vz-line');
 ax.finish();
 legend(ax.g,1605,2163,71,71,[{n:'vx',t:'Vx',c:'#f00',dy:22.5},{n:'vy',t:'Vy',c:'#008000',dy:22.5},{n:'vz',t:'Vz',c:'#00f',dy:22.5}],'sw-legend');
}
{
 const ax=tpanel('plasma-beta','Plasma Beta',2439,0,5,[0,1,2,3,4,5],'',0);
 poly(ax,betaIdx,betaP,'#00f','beta-p-line');
 poly(ax,betaIdx,betaT,'#008000','beta-line');
 ax.finish();
 const yl=mk('text',{'font-size':15,'text-anchor':'middle',transform:'translate(80,2533) rotate(-90)',fill:'#333'},'beta-y-axis-title',ax.g);
 yl.innerHTML='<tspan font-style="italic" font-family="Liberation Serif">β<tspan font-size="10" dy="3">p</tspan></tspan><tspan dy="-3"> and </tspan><tspan font-style="italic" font-family="Liberation Serif">β</tspan>';
 const lg=mk('g',{},'beta-legend',ax.g);
 mk('rect',{x:1609,y:2446,width:67,height:56,fill:'#fff',stroke:'#000','stroke-width':2.2},'legend-box',lg);
 mk('line',{x1:1617,y1:2461,x2:1639,y2:2461,stroke:'#00f','stroke-width':2.4},'legend-line-beta-p',lg);
 const t1=mk('text',{x:1660,y:2466,'font-size':15,'font-style':'italic','font-family':'Liberation Serif','text-anchor':'middle'},'legend-label-beta-p',lg);
 t1.innerHTML='β<tspan font-size="10" dy="3">p</tspan>';
 mk('line',{x1:1617,y1:2487,x2:1639,y2:2487,stroke:'#008000','stroke-width':2.4},'legend-line-beta',lg);
 txt(1660,2492,'β',15,'middle','legend-label-beta',lg,{'font-style':'italic','font-family':'Liberation Serif'});
}
{
 const ax=tpanel('proton-density','Proton Number Density',2722,0,30,[0,5,10,15,20,25,30],'Np(#/cc)',70);
 poly(ax,npIdx,npVal,'#00f','np-line');
 ax.finish();
}
{
 const ax=axes({name:'proton-temperature',x0:117,x1:1683,y0:3006,y1:3195,xmin:0,xmax:47,ymin:0,ymax:0.5,xticks:timeTickIdx,xlabels:timeTickLabels,yticks:[0,0.1,0.2,0.3,0.4,0.5],yfmt:v=>v.toFixed(1),ylabel:'',ylabelX:0});
 txt(900,2996,'',24,'middle','temp-title-placeholder',ax.g);
 const tt=mk('text',{x:900,y:2994,'font-size':24,'text-anchor':'middle'},'proton-temperature-title',ax.g);
 tt.innerHTML='Proton Temperature and <tspan font-style="italic" font-family="Liberation Serif">T<tspan font-size="15" dy="5">e</tspan><tspan dy="-5">/T</tspan><tspan font-size="15" dy="5">p</tspan></tspan>';
 const ry=v=>3195-v/5*189;
 const teX=teIdx.map(i=>ax.sx(i)), teY=teRatio.map(ry);
 mk('polyline',{points:teX.map((x,i)=>x.toFixed(1)+','+teY[i].toFixed(1)).join(' '),fill:'none',stroke:'#f00','stroke-width':2.2},'te-tp-line',ax.plot);
 poly(ax,tIdx,tpVal,'#00f','tp-line');
 [0,1,2,3,4,5].forEach(v=>{
  mk('line',{x1:1683,y1:ry(v),x2:1675,y2:ry(v),stroke:'#000','stroke-width':1.3},'right-y-tick',ax.g);
  txt(1691,ry(v)+6,String(v),17,'start','right-y-tick-label',ax.g,{fill:'#f00'});
 });
 ax.finish();
 const yl=mk('text',{'font-size':16,'text-anchor':'middle',transform:'translate(60,3100) rotate(-90)'},'tp-y-axis-title',ax.g);
 yl.innerHTML='Tp(10<tspan font-size="10" dy="-6">6</tspan><tspan dy="6">K)</tspan>';
 const yr=mk('text',{'font-size':18,'text-anchor':'middle',fill:'#f00','font-style':'italic','font-family':'Liberation Serif',transform:'translate(1735,3100) rotate(-90)'},'te-tp-y-axis-title',ax.g);
 yr.innerHTML='T<tspan font-size="12" dy="4">e</tspan><tspan dy="-4">/T</tspan><tspan font-size="12" dy="4">p</tspan>';
 const l1=mk('g',{},'tp-legend',ax.g);
 mk('rect',{x:124,y:3012,width:71,height:28,fill:'#fff',stroke:'#000','stroke-width':2.2},'legend-box',l1);
 mk('line',{x1:132,y1:3026,x2:154,y2:3026,stroke:'#00f','stroke-width':2.4},'legend-line-tp',l1);
 txt(186,3031,'Tp',15,'end','legend-label-tp',l1);
 const l2=mk('g',{},'te-tp-legend',ax.g);
 mk('rect',{x:1587,y:3013,width:89,height:31,fill:'#fff',stroke:'#000','stroke-width':2.2},'legend-box',l2);
 mk('line',{x1:1596,y1:3028,x2:1618,y2:3028,stroke:'#f00','stroke-width':2.4},'legend-line-te-tp',l2);
 const lt=mk('text',{x:1668,y:3033,'font-size':15,'text-anchor':'end','font-style':'italic','font-family':'Liberation Serif'},'legend-label-te-tp',l2);
 lt.innerHTML='T<tspan font-size="10" dy="3">e</tspan><tspan dy="-3">/T</tspan><tspan font-size="10" dy="3">p</tspan>';
}
</script>
</body></html>
